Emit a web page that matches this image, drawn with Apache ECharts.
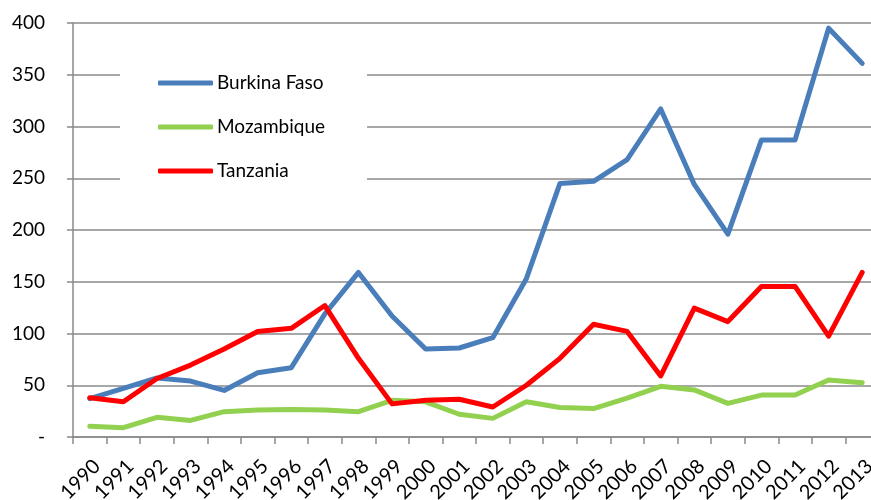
<!DOCTYPE html>
<html>
<head>
<meta charset="utf-8">
<script src="https://cdn.jsdelivr.net/npm/echarts@6/dist/echarts.min.js"></script>
<style>
    html, body { margin: 0; padding: 0; background: #fff; }
    #chart { width: 871px; height: 500px; }
</style>
</head>
<body>
<div id="chart"></div>
<script>
// 年份
var years = ['1990', '1991', '1992', '1993', '1994', '1995', '1996', '1997', '1998', '1999', '2000', '2001',
    '2002', '2003', '2004', '2005', '2006', '2007', '2008', '2009', '2010', '2011', '2012', '2013'];

// 各国数据
var burkinaFaso = [37, 47, 57, 54, 45, 62, 67, 119, 159, 117, 85, 86,
    96, 153, 245, 247, 268, 317, 244, 196, 287, 287, 395, 361];
var mozambique = [10.5, 9, 19, 16, 24.5, 26, 26.5, 26, 24.5, 35.5, 34, 22,
    18, 34, 28.5, 27.5, 37.5, 49, 45.5, 32.5, 40.5, 40.5, 55, 52.5];
var tanzania = [38, 34, 56.5, 69.5, 85, 102, 105, 127, 76, 32, 35.5, 36.5,
    29, 50, 76, 109, 102, 59, 124.5, 111.5, 145.5, 145.5, 97.5, 159];

var seriesNames = ['Burkina Faso', 'Mozambique', 'Tanzania'];
var seriesColors = ['#4A7EBB', '#92D050', '#FF0000'];

function initChart () {
    var chart = echarts.init(document.getElementById('chart'));
    var font = 'Lato, "Noto Sans", sans-serif';
    var gray = '#8a8a8a';
    var option = {
        animation: false,
        textStyle: { fontFamily: font },
        color: seriesColors,
        legend: {
            orient: 'vertical',
            left: 120,
            top: 40,
            padding: [33, 42, 33, 38],
            backgroundColor: '#fff',
            icon: 'roundRect',
            itemWidth: 55,
            itemHeight: 5,
            itemGap: 24,
            textStyle: { fontFamily: font, fontSize: 19, color: '#000', lineHeight: 20, padding: [0, 0, 0, -1] },
            data: seriesNames
        },
        grid: {
            left: 73,
            top: 23,
            right: -8,
            bottom: 63,
            outerBoundsMode: 'none'
        },
        xAxis: {
            type: 'category',
            data: years,
            boundaryGap: true,
            axisLine: { lineStyle: { color: gray, width: 1.5 } },
            axisTick: { show: true, length: 7, lineStyle: { color: gray, width: 1.5 } },
            axisLabel: {
                rotate: 45,
                margin: 19,
                interval: 0,
                verticalAlign: 'top',
                fontFamily: font,
                fontSize: 20,
                color: '#000'
            }
        },
        yAxis: {
            type: 'value',
            min: 0,
            max: 400,
            interval: 50,
            axisLine: { show: true, lineStyle: { color: gray, width: 1.5 } },
            axisTick: { show: true, length: 6, lineStyle: { color: gray, width: 1.5 } },
            splitLine: { lineStyle: { color: gray, width: 1.5 } },
            axisLabel: {
                margin: 28,
                fontFamily: font,
                fontSize: 19,
                color: '#000',
                formatter: function (v) { return v === 0 ? '-' : String(v); }
            }
        },
        series: [
            { name: seriesNames[0], type: 'line', data: burkinaFaso },
            { name: seriesNames[1], type: 'line', data: mozambique },
            { name: seriesNames[2], type: 'line', data: tanzania }
        ].map(function (s, i) {
            s.showSymbol = false;
            s.symbol = 'none';
            s.lineStyle = { width: 5, color: seriesColors[i], cap: 'round', join: 'round' };
            return s;
        })
    };
    chart.setOption(option);
    return chart;
}

initChart();
</script>
</body>
</html>
